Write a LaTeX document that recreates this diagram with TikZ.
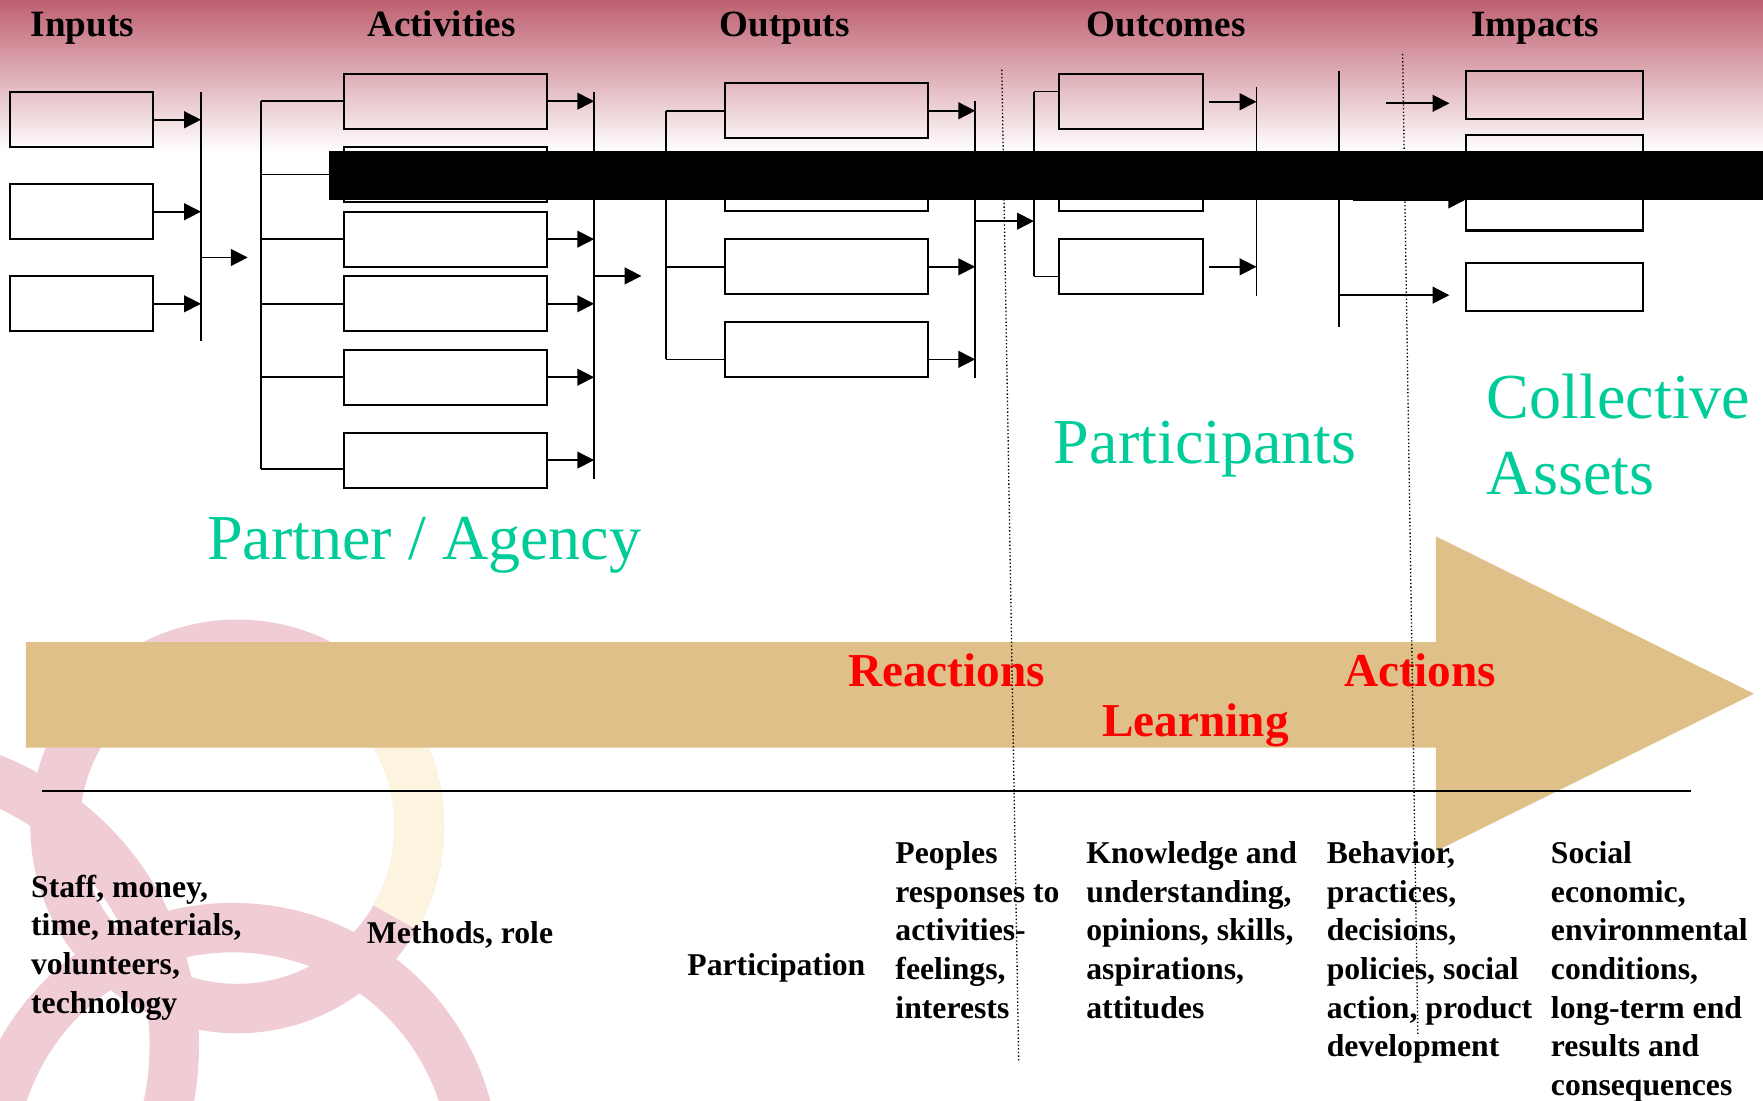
\documentclass[tikz,border=0pt]{standalone}
\usepackage{fontspec}
\setmainfont{Liberation Serif}
\usetikzlibrary{arrows.meta}

\definecolor{rosetop}{RGB}{190,96,112}
\definecolor{ringpink}{RGB}{240,205,213}
\definecolor{ringcream}{RGB}{253,244,224}
\definecolor{bandtan}{RGB}{222,192,136}
\definecolor{mint}{RGB}{0,204,153}

\begin{document}
\begin{tikzpicture}[x=0.5pt,y=-0.5pt,
  blank/.style={draw, line width=0.9pt, inner sep=0pt, minimum height=24.5pt},
  bus/.style={line width=0.75pt},
  feed/.style={line width=0.75pt, -{Triangle[length=7.5pt,width=7.5pt]}},
  stage/.style={anchor=base west, inner sep=0pt, font=\bfseries\fontsize{16.5pt}{20pt}\selectfont},
  owner/.style={inner sep=0pt, text=mint, font=\fontsize{28.5pt}{34pt}\selectfont},
  level/.style={anchor=base west, inner sep=0pt, text=red, font=\bfseries\fontsize{21pt}{25pt}\selectfont},
  notes/.style={inner sep=0pt, align=left, font=\bfseries\fontsize{14.1pt}{17.2pt}\selectfont}]
\useasboundingbox (0,0) rectangle (1568,979);

% background
\shade[top color=rosetop, bottom color=white] (0,0) rectangle (1568,135);
\draw[ringpink, line width=22pt] (-100,930) circle (255);
\draw[ringpink, line width=22pt] (207,1040) circle (215);
\draw[ringpink, line width=22pt] (211,735) circle (162);
\draw[ringcream, line width=22pt] (211,735) ++(-35:162) arc (-35:30:162);

% tan arrow
\fill[bandtan] (23,571) -- (1277,571) -- (1277,477) -- (1560,617) -- (1277,757) -- (1277,665) -- (23,665) -- cycle;

% stage headers
\node[stage] (hin) at (27,32.6) {Inputs};
\node[stage] (hact) at (326.3,32.6) {Activities};
\node[stage] (hout) at (639.6,32.6) {Outputs};
\node[stage] (hoc) at (966.3,32.6) {Outcomes};
\node[stage] (himp) at (1308,32.6) {Impacts};

% inputs
\node[blank, minimum width=64pt] (in1) at (72.5,106.5) {};
\node[blank, minimum width=64pt] (in2) at (72.5,188.3) {};
\node[blank, minimum width=64pt] (in3) at (72.5,270.2) {};
\coordinate (inbus) at (178.7,81.8);
\draw[bus] (inbus) -- (178.7,303.2);
\foreach \b in {in1,in2,in3}
\draw[feed] (\b.east) -- (\b.east -| inbus);
\coordinate (ingo) at (178.7,229);
\coordinate (actin) at (220.3,229);
\draw[feed] (ingo) -- (actin);

% activities
\foreach \b/\y in {act1/90, act2/155.3, act3/212.7, act4/270.2, act5/335.5, act6/409.2}
\node[blank, minimum width=90.3pt] (\b) at (396,\y) {};
\coordinate (actbrk) at (232,90);
\coordinate (actbus) at (528.4,81.5);
\draw[bus] (act1.west -| actbrk) -- ([yshift=-4pt]act6.west -| actbrk);
\foreach \b in {act1,act2,act3,act4,act5}
\draw[bus] (\b.west -| actbrk) -- (\b.west);
\draw[bus] ([yshift=-4pt]act6.west -| actbrk) -- ([yshift=-4pt]act6.west);
\draw[bus] (actbus) -- (528.4,425.6);
\foreach \b in {act1,act2,act3,act4,act5,act6}
\draw[feed] (\b.east) -- (\b.east -| actbus);
\coordinate (actgo) at (528.4,245.4);
\coordinate (outin) at (570.5,245.4);
\draw[feed] (actgo) -- (outin);

% outputs
\foreach \b/\y in {out1/98.5, out2/163.5, out3/237.3, out4/311.2}
\node[blank, minimum width=90pt] (\b) at (735,\y) {};
\coordinate (outbrk) at (592.4,98.5);
\coordinate (outbus) at (867.3,89.7);
\draw[bus] (out1.west -| outbrk) -- ([yshift=-4.2pt]out4.west -| outbrk);
\foreach \b in {out1,out2,out3}
\draw[bus] (\b.west -| outbrk) -- (\b.west);
\draw[bus] ([yshift=-4.2pt]out4.west -| outbrk) -- ([yshift=-4.2pt]out4.west);
\draw[bus] (outbus) -- (867.3,336);
\foreach \b in {out1,out2,out3}
\draw[feed] (\b.east) -- (\b.east -| outbus);
\draw[feed] ([yshift=-4.2pt]out4.east) -- ([yshift=-4.2pt]out4.east -| outbus);
\coordinate (outgo) at (867.3,196.7);
\coordinate (ocin) at (919.5,196.7);
\draw[feed] (outgo) -- (ocin);

% outcomes
\foreach \b/\y in {oc1/90.5, oc2/163.5, oc3/237.3}
\node[blank, minimum width=64pt] (\b) at (1005.5,\y) {};
\coordinate (ocbrk) at (919.5,81.4);
\coordinate (ocbus) at (1117.5,77);
\draw[bus] ([yshift=4.5pt]oc1.west -| ocbrk) -- ([yshift=-4.3pt]oc3.west -| ocbrk);
\draw[bus] ([yshift=4.5pt]oc1.west -| ocbrk) -- ([yshift=4.5pt]oc1.west);
\draw[bus] (oc2.west -| ocbrk) -- (oc2.west);
\draw[bus] ([yshift=-4.3pt]oc3.west -| ocbrk) -- ([yshift=-4.3pt]oc3.west);
\draw[bus] (ocbus) -- (1117.5,263);
\foreach \b in {oc1,oc2,oc3}
\draw[feed] ([xshift=2.5pt]\b.east) -- (\b.east -| ocbus);

% impacts
\foreach \b/\y in {imp1/84.5, imp2/142, imp3/183.5, imp4/255.5}
\node[blank, minimum width=78.5pt, minimum height=21.5pt] (\b) at (1382.5,\y) {};
\coordinate (impbus) at (1190.7,63);
\draw[bus] (impbus) -- (1190.7,291);
\coordinate (impgo) at (1232.5,91.9);
\draw[feed] (impgo) -- ([xshift=-7pt,yshift=-3.7pt]imp1.west);
\coordinate (impmid) at (1203.6,177.8);
\draw[feed] (impmid) -- (impmid -| imp3.west);
\draw[feed] ([yshift=-3.5pt]imp4.west -| impbus) -- ([xshift=-7pt,yshift=-3.5pt]imp4.west);

% black bar
\fill[black] (293,134) rectangle (1568,178);

% owners
\node[owner, anchor=base west] (partner) at (183.8,497.8) {Partner / Agency};
\node[owner, anchor=base west] (people) at (937,412) {Participants};
\node[owner, anchor=north west, align=left] (assets) at (1322,332) {Collective\\Assets};

% levels
\node[level] (react) at (754,611) {Reactions};
\node[level] (learn) at (980,654.8) {Learning};
\node[level] (act) at (1195,611) {Actions};

% rule and dividers
\draw[line width=1.1pt] (37,703.5) -- (1504,703.5);
\draw[densely dotted, line width=0.6pt] (891,62) -- (906,943);
\draw[densely dotted, line width=0.6pt] (1247.5,48) -- (1261,920);

% descriptions
\node[notes, anchor=north west] (tin) at (27.3,777.7) {Staff, money,\\time, materials,\\volunteers,\\technology};
\node[notes, anchor=base west] (tact) at (326,839) {Methods, role};
\node[notes, anchor=base west] (tout) at (611,867.3) {Participation};
\node[notes, anchor=north west] (treact) at (796,748) {Peoples\\responses to\\activities-\\feelings,\\interests};
\node[notes, anchor=north west] (tlearn) at (965.8,748) {Knowledge and\\understanding,\\opinions, skills,\\aspirations,\\attitudes};
\node[notes, anchor=north west] (tdo) at (1179.6,748) {Behavior,\\practices,\\decisions,\\policies, social\\action, product\\development};
\node[notes, anchor=north west] (timp) at (1379,748) {Social\\economic,\\environmental\\conditions,\\long-term end\\results and\\consequences};
\end{tikzpicture}
\end{document}
